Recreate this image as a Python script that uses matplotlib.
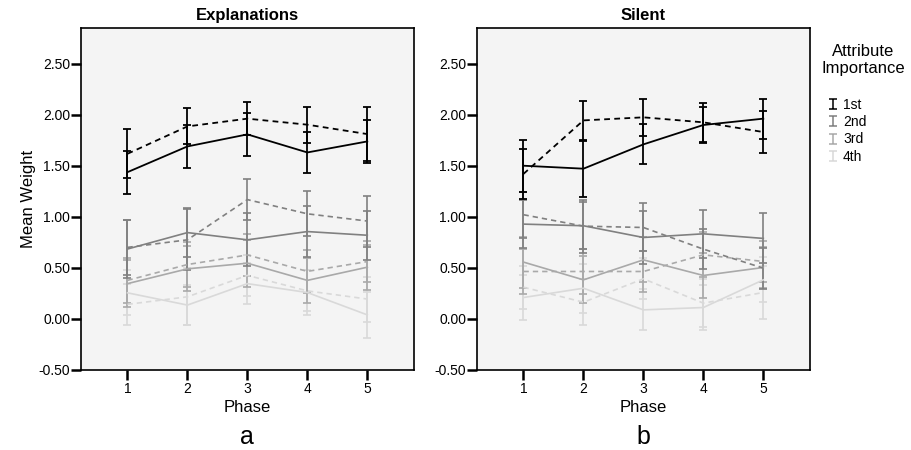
import matplotlib
matplotlib.use("Agg")
import matplotlib.pyplot as plt
from matplotlib.path import Path
from matplotlib.lines import Line2D
import numpy as np

plt.rcParams['font.family'] = ['Liberation Sans', 'DejaVu Sans']

phases = [1, 2, 3, 4, 5]
ranks = ["1st", "2nd", "3rd", "4th"]
colors = ["#000000", "#808080", "#a9a9a9", "#d9d9d9"]

# Explanations panel: solid and dashed series, with error half-widths
exp_solid = [[1.437, 1.689, 1.807, 1.630, 1.738],
             [0.684, 0.845, 0.774, 0.855, 0.819],
             [0.345, 0.490, 0.545, 0.377, 0.506],
             [0.255, 0.135, 0.345, 0.258, 0.039]]
exp_solid_err = [[0.212, 0.209, 0.208, 0.203, 0.210],
                 [0.280, 0.240, 0.260, 0.250, 0.240],
                 [0.230, 0.220, 0.230, 0.220, 0.220],
                 [0.220, 0.200, 0.200, 0.220, 0.226]]
exp_dashed = [[1.617, 1.885, 1.961, 1.902, 1.810],
              [0.700, 0.774, 1.168, 1.029, 0.958],
              [0.377, 0.532, 0.626, 0.465, 0.561],
              [0.142, 0.216, 0.426, 0.274, 0.194]]
exp_dashed_err = [[0.240, 0.176, 0.160, 0.175, 0.262],
                  [0.270, 0.300, 0.200, 0.220, 0.250],
                  [0.220, 0.220, 0.210, 0.210, 0.200],
                  [0.200, 0.280, 0.200, 0.200, 0.220]]

# Silent panel
sil_solid = [[1.500, 1.471, 1.709, 1.899, 1.961],
             [0.928, 0.912, 0.797, 0.833, 0.788],
             [0.556, 0.382, 0.578, 0.425, 0.503],
             [0.209, 0.300, 0.088, 0.111, 0.382]]
sil_solid_err = [[0.255, 0.275, 0.196, 0.175, 0.195],
                 [0.235, 0.230, 0.255, 0.236, 0.245],
                 [0.250, 0.230, 0.220, 0.220, 0.200],
                 [0.220, 0.240, 0.200, 0.225, 0.220]]
sil_dashed = [[1.420, 1.944, 1.974, 1.925, 1.830],
              [1.020, 0.908, 0.895, 0.683, 0.497],
              [0.464, 0.464, 0.464, 0.627, 0.562],
              [0.310, 0.163, 0.392, 0.154, 0.258]]
sil_dashed_err = [[0.245, 0.190, 0.180, 0.190, 0.207],
                  [0.225, 0.260, 0.235, 0.196, 0.200],
                  [0.220, 0.220, 0.200, 0.220, 0.200],
                  [0.210, 0.225, 0.200, 0.234, 0.260]]

yticks = [-0.5, 0.0, 0.5, 1.0, 1.5, 2.0, 2.5]
ytick_labels = ["-0.50", "0.00", "0.50", "1.00", "1.50", "2.00", "2.50"]

fig = plt.figure(figsize=(9.11, 4.5), dpi=100)
ax1 = fig.add_axes([0.0886, 0.178, 0.3659, 0.760])
ax2 = fig.add_axes([0.5233, 0.178, 0.3659, 0.760])

dash = (0, (3.2, 2.4))

def draw(ax, solid, solid_err, dashed, dashed_err, title, letter):
    ax.set_facecolor("#f4f4f4")
    for i in reversed(range(4)):
        c = colors[i]
        lw = 1.3 if i == 0 else 1.2
        ax.errorbar(phases, dashed[i], yerr=dashed_err[i], color=c, lw=lw,
                    linestyle=dash, capsize=3, capthick=lw, elinewidth=lw)
        ax.errorbar(phases, solid[i], yerr=solid_err[i], color=c, lw=lw,
                    linestyle='-', capsize=3, capthick=lw, elinewidth=lw)
    ax.set_xlim(0.22, 5.78)
    ax.set_ylim(-0.5, 2.85)
    ax.set_xticks(phases)
    ax.set_xticklabels([str(p) for p in phases], fontsize=10)
    ax.set_yticks(yticks)
    ax.set_yticklabels(ytick_labels, fontsize=10)
    ax.tick_params(direction='out', length=7, width=1.8)
    ax.tick_params(axis='y', pad=0.5)
    ax.tick_params(axis='x', pad=1.5)
    for s in ax.spines.values():
        s.set_linewidth(1.2)
    ax.set_title(title, fontsize=12, fontweight='bold', pad=6)
    ax.set_xlabel("Phase", fontsize=12)
    ax.xaxis.set_label_coords(0.5, -0.111)
    ax.xaxis.label.set_va('center')
    bb = ax.get_position()
    fig.text((bb.x0 + bb.x1) / 2, 0.029, letter, ha='center', va='center', fontsize=18)

draw(ax1, exp_solid, exp_solid_err, exp_dashed, exp_dashed_err, "Explanations", "a")
draw(ax2, sil_solid, sil_solid_err, sil_dashed, sil_dashed_err, "Silent", "b")
ax1.set_ylabel("Mean Weight", fontsize=12)
ax1.yaxis.set_label_coords(-0.158, 0.5)
ax1.yaxis.label.set_va('center')

# legend
fig.text(863 / 911, 1 - 60 / 450, "Attribute\nImportance", ha='center', va='center',
         fontsize=12, multialignment='center')
ibeam = Path([(-0.4, 0.5), (0.4, 0.5), (0, 0.5), (0, -0.5), (-0.4, -0.5), (0.4, -0.5)],
             [Path.MOVETO, Path.LINETO, Path.MOVETO, Path.LINETO, Path.MOVETO, Path.LINETO])
handles = [Line2D([], [], linestyle='none', marker=ibeam, markersize=7,
                  markeredgecolor=colors[i], markerfacecolor='none',
                  markeredgewidth=1.1) for i in range(4)]
leg = fig.legend(handles=handles, labels=ranks, loc='upper left',
                 bbox_to_anchor=(0.895, 0.811), frameon=False, fontsize=10,
                 handlelength=0.8, handletextpad=0.3, labelspacing=0.25)

fig.savefig("out.png", dpi=100)
